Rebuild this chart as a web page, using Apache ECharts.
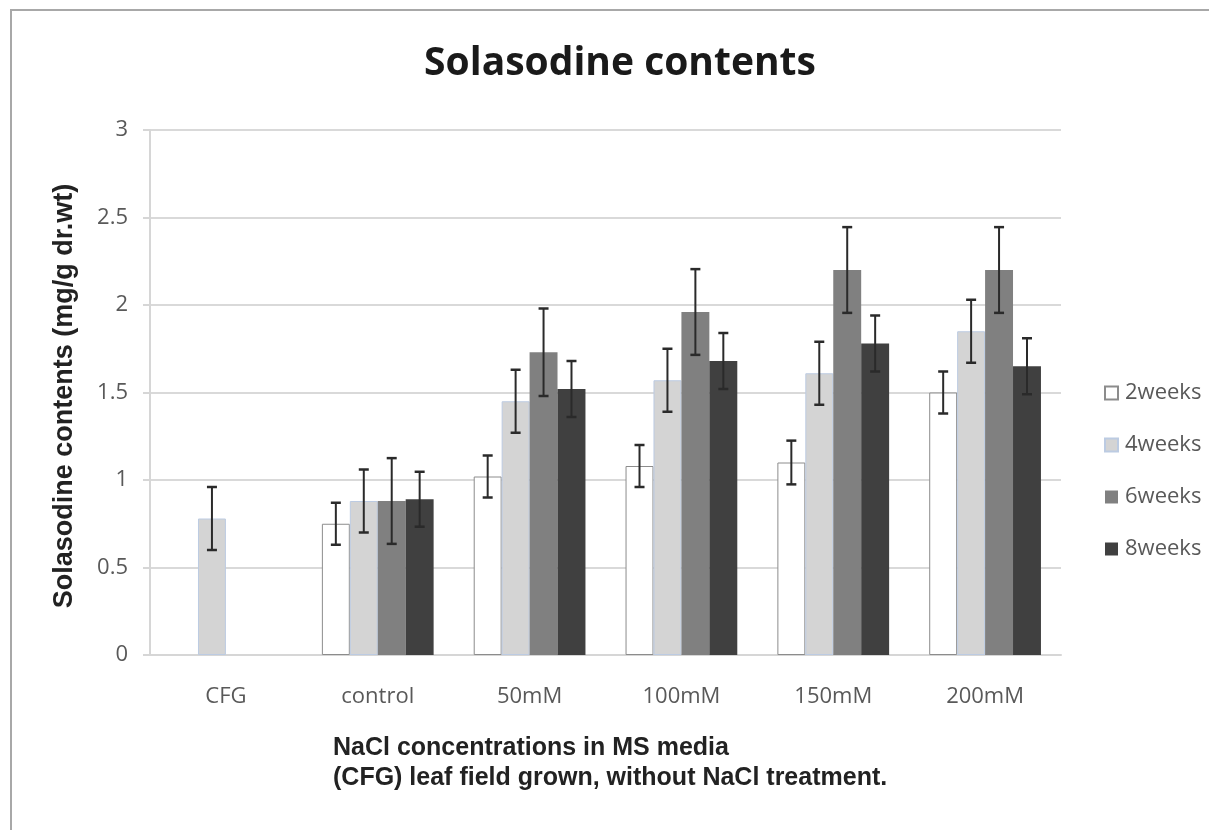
<!DOCTYPE html>
<html>
<head>
<meta charset="utf-8">
<script src="https://cdn.jsdelivr.net/npm/echarts@6/dist/echarts.min.js"></script>
<style>
html,body{margin:0;padding:0;background:#fff;}
#chart{width:1209px;height:830px;}
</style>
</head>
<body>
<div id="chart"></div>
<script>
const categories = ['CFG', 'control', '50mM', '100mM', '150mM', '200mM'];
const seriesNames = ['2weeks', '4weeks', '6weeks', '8weeks'];
const weeks2 = [null, 0.75, 1.02, 1.08, 1.10, 1.50];
const weeks4 = [0.78, 0.88, 1.45, 1.57, 1.61, 1.85];
const weeks6 = [null, 0.88, 1.73, 1.96, 2.20, 2.20];
const weeks8 = [null, 0.89, 1.52, 1.68, 1.78, 1.65];
const err2 = [null, 0.12, 0.12, 0.12, 0.125, 0.12];
const err4 = [0.18, 0.18, 0.18, 0.18, 0.18, 0.18];
const err6 = [null, 0.245, 0.25, 0.245, 0.245, 0.245];
const err8 = [null, 0.157, 0.16, 0.16, 0.16, 0.16];
const titleText = 'Solasodine contents';
const yAxisTitle = 'Solasodine contents (mg/g dr.wt)';
const xAxisTitle = 'NaCl concentrations in MS media\n(CFG) leaf field grown, without NaCl treatment.';

const values = [weeks2, weeks4, weeks6, weeks8];
const errors = [err2, err4, err6, err8];
const BAR_RATIO = 0.184;

const barStyles = [
  {color: '#ffffff', borderColor: '#8c8c8c', borderWidth: 1},
  {color: '#d4d4d4', borderColor: '#bccbe2', borderWidth: 1},
  {color: '#808080', borderColor: '#787878', borderWidth: 0},
  {color: '#404040', borderColor: '#404040', borderWidth: 0}
];

const errData = [];
values.forEach((arr, s) => {
  arr.forEach((v, i) => {
    if (v != null && errors[s][i] != null) errData.push([i, v, errors[s][i], s]);
  });
});

const chart = echarts.init(document.getElementById('chart'));
const series = seriesNames.map((name, s) => ({
  name: name,
  type: 'bar',
  data: values[s],
  barWidth: (BAR_RATIO * 100) + '%',
  barGap: '0%',
  itemStyle: barStyles[s],
  emphasis: {disabled: true},
  z: 2
}));
series.push({
  type: 'custom',
  name: 'err',
  data: errData,
  encode: {x: 0, y: 1},
  z: 5,
  silent: true,
  renderItem: function (params, api) {
    const ci = api.value(0), v = api.value(1), e = api.value(2), s = api.value(3);
    const band = api.size([1, 0])[0];
    const bw = band * BAR_RATIO;
    const x = api.coord([ci, v])[0] + (s - 1.5) * bw;
    const yt = api.coord([ci, v + e])[1];
    const yb = api.coord([ci, v - e])[1];
    const hw = 5;
    const st = {stroke: '#2a2a2a', lineWidth: 2};
    return {
      type: 'group',
      children: [
        {type: 'line', shape: {x1: x, y1: yt, x2: x, y2: yb}, style: st},
        {type: 'line', shape: {x1: x - hw, y1: yt, x2: x + hw, y2: yt}, style: {stroke: '#2a2a2a', lineWidth: 2.5}},
        {type: 'line', shape: {x1: x - hw, y1: yb, x2: x + hw, y2: yb}, style: {stroke: '#2a2a2a', lineWidth: 2.5}}
      ]
    };
  }
});

chart.setOption({
  animation: false,
  backgroundColor: '#ffffff',
  grid: {left: 150, right: 148, top: 130, bottom: 175, containLabel: false},
  legend: {
    data: seriesNames,
    orient: 'vertical',
    left: 1099,
    top: 377,
    itemWidth: 13,
    itemHeight: 13,
    itemGap: 30,
    icon: 'rect',
    textStyle: {fontFamily: 'Open Sans', fontSize: 22, color: '#595959', padding: [0, 0, 0, 2]},
    selectedMode: false
  },
  xAxis: {
    type: 'category',
    data: categories,
    axisLine: {show: true, lineStyle: {color: '#d6d6d6', width: 2}},
    axisTick: {show: false},
    axisLabel: {fontFamily: 'Open Sans', fontSize: 22, color: '#595959', margin: 31}
  },
  yAxis: {
    type: 'value',
    min: 0,
    max: 3,
    interval: 0.5,
    axisLine: {show: true, lineStyle: {color: '#d6d6d6', width: 2}},
    axisTick: {show: true, length: 7, lineStyle: {color: '#d6d6d6', width: 2}},
    splitLine: {show: true, lineStyle: {color: '#d9d9d9', width: 2}},
    axisLabel: {fontFamily: 'Open Sans', fontSize: 22, color: '#595959', margin: 22}
  },
  graphic: [
    {type: 'rect', shape: {x: 11, y: 10, width: 1300, height: 900}, style: {fill: 'none', stroke: '#a8a8a8', lineWidth: 2}, silent: true},
    {type: 'text', x: 620, y: 64, style: {text: titleText, font: 'bold 39px "Open Sans"', fill: '#1a1a1a', textAlign: 'center', textVerticalAlign: 'middle'}},
    {type: 'text', x: 65, y: 396, rotation: Math.PI / 2, style: {text: yAxisTitle, font: 'bold 27px "Liberation Sans"', fill: '#222', textAlign: 'center', textVerticalAlign: 'middle'}},
    {type: 'text', x: 333, y: 733, style: {text: xAxisTitle, font: 'bold 25px "Liberation Sans"', lineHeight: 30, fill: '#222', textAlign: 'left', textVerticalAlign: 'top'}}
  ],
  series: series
});
</script>
</body>
</html>
